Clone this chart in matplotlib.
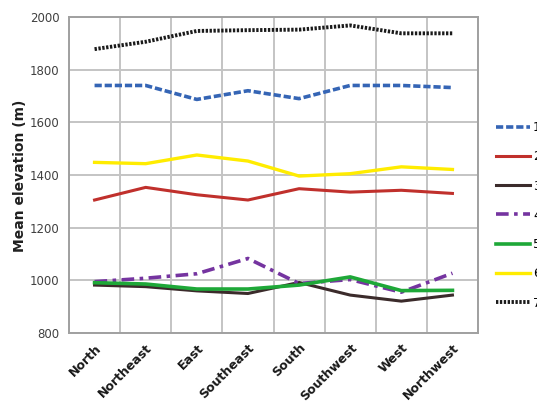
import matplotlib
matplotlib.use("Agg")
import matplotlib.pyplot as plt
import numpy as np

categories = ["North", "Northeast", "East", "Southeast", "South", "Southwest", "West", "Northwest"]
series_labels = ["1", "2", "3", "4", "5", "6", "7"]
s1 = [1740, 1740, 1687, 1720, 1690, 1740, 1740, 1732]
s2 = [1305, 1353, 1325, 1305, 1348, 1335, 1342, 1330]
s3 = [982, 976, 960, 950, 992, 944, 921, 944]
s4 = [995, 1008, 1025, 1083, 988, 1003, 955, 1027]
s5 = [991, 986, 967, 967, 982, 1013, 961, 962]
s6 = [1448, 1443, 1476, 1453, 1396, 1405, 1431, 1421]
s7 = [1878, 1906, 1947, 1950, 1952, 1968, 1938, 1938]
yticks = [800, 1000, 1200, 1400, 1600, 1800, 2000]

fig = plt.figure(figsize=(5.37, 4.07), dpi=100)
ax = fig.add_axes([69/537, 1-333/407, (478-69)/537, (333-17)/407])

x = np.arange(len(categories))
styles = [
    dict(color="#3565b5", lw=2.6, linestyle=(0, (2.0, 0.8))),
    dict(color="#c0302c", lw=2.2, linestyle="-"),
    dict(color="#3b2b2b", lw=2.2, linestyle="-"),
    dict(color="#7534a0", lw=2.6, linestyle=(0, (3.5, 1.5, 1.0, 1.5))),
    dict(color="#1ea838", lw=2.6, linestyle="-"),
    dict(color="#ffec00", lw=2.4, linestyle="-"),
    dict(color="#1a1a1a", lw=2.8, linestyle=(0, (0.6, 0.4))),
]
data = [s1, s2, s3, s4, s5, s6, s7]
handles = []
for d, st, lab in zip(data, styles, series_labels):
    h, = ax.plot(x, d, label=lab, **st)
    handles.append(h)

ax.set_xlim(-0.5, len(categories) - 0.5)
ax.set_ylim(800, 2000)
ax.set_yticks(yticks)
ax.set_yticklabels([str(v) for v in yticks], fontsize=8.5, color="#404040")
ax.set_xticks(x)
ax.set_xticklabels(categories, rotation=45, ha="right", rotation_mode="anchor",
                   fontsize=9, fontweight="bold", color="#181818")
ax.set_xticks(np.arange(-0.5, len(categories), 1), minor=True)
ax.tick_params(axis="x", which="both", length=0, pad=6)
ax.tick_params(axis="y", length=0, pad=7)
ax.grid(True, axis="y", color="#c4c4c4", lw=1.4)
ax.grid(True, axis="x", which="minor", color="#c4c4c4", lw=1.4)
ax.set_axisbelow(True)
for sp in ax.spines.values():
    sp.set_color("#a0a0a0")
    sp.set_linewidth(1.4)

fig.text(20/537, 1-176/407, "Mean elevation (m)", rotation=90, ha="center", va="center",
         fontsize=10, fontweight="bold", color="#202020")

fig.legend(handles=handles, labels=series_labels, loc="upper left",
           bbox_to_anchor=(496/537, 1-121/407), frameon=False, fontsize=9,
           handlelength=2.7, handletextpad=0.25, labelspacing=1.3,
           borderpad=0, borderaxespad=0)

fig.savefig("out.png", dpi=100)
